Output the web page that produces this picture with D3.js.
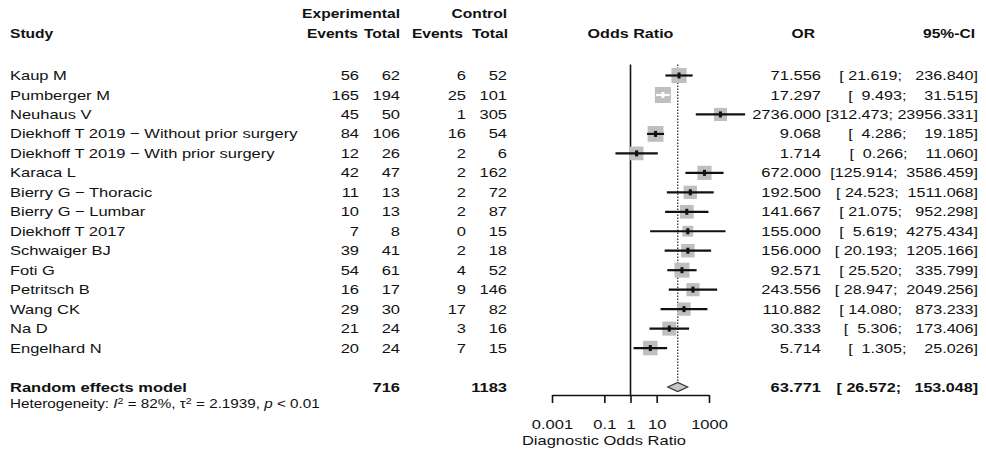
<!DOCTYPE html>
<html>
<head>
<meta charset="utf-8">
<script src="https://cdn.jsdelivr.net/npm/d3@7"></script>
<style>
  body { margin: 0; background: #fff; }
  svg text { font-family: "Liberation Sans", Arial, Helvetica, sans-serif; fill: #111; white-space: pre; }
</style>
</head>
<body>
<div id="chart"></div>
<script>
// study rows, top to bottom
const studies = [
  'Kaup M', 'Pumberger M', 'Neuhaus V',
  'Diekhoff T 2019 \u2212 Without prior surgery', 'Diekhoff T 2019 \u2212 With prior surgery',
  'Karaca L', 'Bierry G \u2212 Thoracic', 'Bierry G \u2212 Lumbar', 'Diekhoff T 2017',
  'Schwaiger BJ', 'Foti G', 'Petritsch B', 'Wang CK', 'Na D', 'Engelhard N',
];
const expEvents = [56, 165, 45, 84, 12, 42, 11, 10, 7, 39, 54, 16, 29, 21, 20];
const expTotal = [62, 194, 50, 106, 26, 47, 13, 13, 8, 41, 61, 17, 30, 24, 24];
const ctrlEvents = [6, 25, 1, 16, 2, 2, 2, 2, 0, 2, 4, 9, 17, 3, 7];
const ctrlTotal = [52, 101, 305, 54, 6, 162, 72, 87, 15, 18, 52, 146, 82, 16, 15];
const oddsRatio = [71.556, 17.297, 2736.000, 9.068, 1.714, 672.000, 192.500, 141.667,
  155.000, 156.000, 92.571, 243.556, 110.882, 30.333, 5.714];
const ciLower = [21.619, 9.493, 312.473, 4.286, 0.266, 125.914, 24.523, 21.075,
  5.619, 20.193, 25.520, 28.947, 14.080, 5.306, 1.305];
const ciUpper = [236.840, 31.515, 23956.331, 19.185, 11.060, 3586.459, 1511.068, 952.298,
  4275.434, 1205.166, 335.799, 2049.256, 873.233, 173.406, 25.026];
// approximate random-effects weights (%)
const weights = [7.8, 8.7, 5.8, 8.5, 6.4, 6.8, 6.0, 6.4, 4.0, 6.1, 7.6, 5.9, 6.0, 6.7, 7.2];

const pooledOR = 63.771;
const pooledCI = [26.572, 153.048];
const pooledTotals = [716, 1183];
const hetI2 = '82%';
const hetTau2 = '2.1939';
const hetP = '< 0.01';
const axisTicks = [0.001, 0.1, 1, 10, 1000];

const W = 986, H = 452;
const sx = 1.27; // the reference text is stretched sideways
const sxHead = 1.2;
const sxCI = 1.24;
const fs = 13;

const svg = d3.select('#chart').append('svg')
  .attr('width', W).attr('height', H);

const x = d3.scaleLog().domain([0.001, 1000]).range([552, 709]);
const y = d3.scalePoint().domain(d3.range(studies.length + 2)).range([75.5, 387]);
const boxSize = d3.scaleSqrt().domain([0, d3.max(weights)]).range([0, 16]);

const fmt = d3.format('.3f');
const pad = (s, n) => s.padStart(n, ' ');
const ciText = (l, u) => `[${pad(fmt(l), 7)}; ${pad(fmt(u), 9)}]`;

const label = (px, py, str, anchor = 'start', bold = false, k = sx, size = fs) => svg.append('text')
  .attr('transform', `translate(${px},${py}) scale(${k},1)`)
  .attr('dy', '0.35em')
  .attr('text-anchor', anchor)
  .style('font-size', `${size}px`)
  .style('font-weight', bold ? 'bold' : null)
  .text(str);

// column anchors
const col = {
  study: 10, expE: 359, expT: 400, ctlE: 466, ctlT: 507, or: 821, ci: 978,
};

// headers
label(col.expT, 13, 'Experimental', 'end', true, sxHead);
label(col.ctlT, 13, 'Control', 'end', true, sxHead);
label(col.study, 33, 'Study', 'start', true, sxHead);
label(358, 33, 'Events', 'end', true, sxHead);
label(col.expT, 33, 'Total', 'end', true, sxHead);
label(463, 33, 'Events', 'end', true, sxHead);
label(col.ctlT + 1, 33, 'Total', 'end', true, sxHead);
label(x(1), 33, 'Odds Ratio', 'middle', true, 1.24);
label(815, 33, 'OR', 'end', true, sxHead);
label(975, 33, '95%-CI', 'end', true, sxHead);

// study rows text
studies.forEach((s, i) => {
  label(col.study, y(i), s);
  label(col.expE, y(i), String(expEvents[i]), 'end');
  label(col.expT, y(i), String(expTotal[i]), 'end');
  label(col.ctlE, y(i), String(ctrlEvents[i]), 'end');
  label(col.ctlT, y(i), String(ctrlTotal[i]), 'end');
  label(col.or, y(i), fmt(oddsRatio[i]), 'end');
  label(col.ci, y(i), ciText(ciLower[i], ciUpper[i]), 'end', false, sxCI);
});

// pooled row
const pr = studies.length + 1;
label(col.study, y(pr), 'Random effects model', 'start', true);
label(col.expT, y(pr), String(pooledTotals[0]), 'end', true);
label(col.ctlT, y(pr), String(pooledTotals[1]), 'end', true);
label(col.or, y(pr), fmt(pooledOR), 'end', true);
label(col.ci, y(pr), ciText(pooledCI[0], pooledCI[1]), 'end', true, sxCI);

// heterogeneity line
const het = svg.append('text')
  .attr('transform', `translate(${col.study},${y(pr) + 17}) scale(${sx},1)`)
  .attr('dy', '0.35em')
  .style('font-size', '12px');
het.append('tspan').text('Heterogeneity: ');
het.append('tspan').style('font-style', 'italic').text('I');
het.append('tspan').attr('dy', -4).style('font-size', '8.5px').text('2');
het.append('tspan').attr('dy', 4).text(` = ${hetI2}, \u03c4`);
het.append('tspan').attr('dy', -4).style('font-size', '8.5px').text('2');
het.append('tspan').attr('dy', 4).text(` = ${hetTau2}, `);
het.append('tspan').style('font-style', 'italic').text('p');
het.append('tspan').text(` ${hetP}`);

// plot
const plot = svg.append('g');
const axisY = 395;
const topY = y(0) - 11;

plot.append('line')
  .attr('x1', x(1)).attr('x2', x(1))
  .attr('y1', topY).attr('y2', axisY)
  .attr('stroke', '#111').attr('stroke-width', 1.6);

plot.append('line')
  .attr('x1', x(pooledOR)).attr('x2', x(pooledOR))
  .attr('y1', topY).attr('y2', y(pr) - 5)
  .attr('stroke', '#333').attr('stroke-width', 1.3)
  .attr('stroke-dasharray', '1.5,1.5');

studies.forEach((s, i) => {
  const cx = x(oddsRatio[i]);
  const cy = y(i);
  const b = boxSize(weights[i]);
  const x0 = x(ciLower[i]);
  const x1 = x(ciUpper[i]);
  const inside = x0 >= cx - b / 2 && x1 <= cx + b / 2;
  const c = inside ? '#fff' : '#111';

  plot.append('rect')
    .attr('x', cx - b / 2).attr('y', cy - b / 2)
    .attr('width', b).attr('height', b)
    .attr('fill', '#bfbfbf');

  plot.append('line')
    .attr('x1', x0).attr('x2', x1)
    .attr('y1', cy).attr('y2', cy)
    .attr('stroke', c).attr('stroke-width', 2.2);

  plot.append('rect')
    .attr('x', cx - 1.5).attr('y', cy - 3)
    .attr('width', 3).attr('height', 6)
    .attr('fill', c);
});

// pooled diamond
const dy = y(pr);
plot.append('path')
  .attr('d', `M${x(pooledCI[0])},${dy} L${x(pooledOR)},${dy - 4.5} L${x(pooledCI[1])},${dy} L${x(pooledOR)},${dy + 4.5} Z`)
  .attr('fill', '#c8c8c8')
  .attr('stroke', '#333')
  .attr('stroke-width', 1.2);

// axis
const axis = plot.append('g')
  .attr('transform', `translate(0,${axisY})`)
  .call(d3.axisBottom(x).tickValues(axisTicks).tickFormat((d) => String(d))
    .tickSize(8).tickSizeOuter(0).tickPadding(17));
axis.select('.domain').attr('stroke', '#111').attr('stroke-width', 1.6);
axis.selectAll('.tick line').attr('stroke', '#111').attr('stroke-width', 1.6);
axis.selectAll('.tick text')
  .attr('transform', `scale(${sx},1)`)
  .style('font-size', `${fs}px`)
  .style('font-family', '"Liberation Sans", Arial, sans-serif')
  .attr('fill', '#111');

label(604, 440, 'Diagnostic Odds Ratio', 'middle');
</script>
</body>
</html>
